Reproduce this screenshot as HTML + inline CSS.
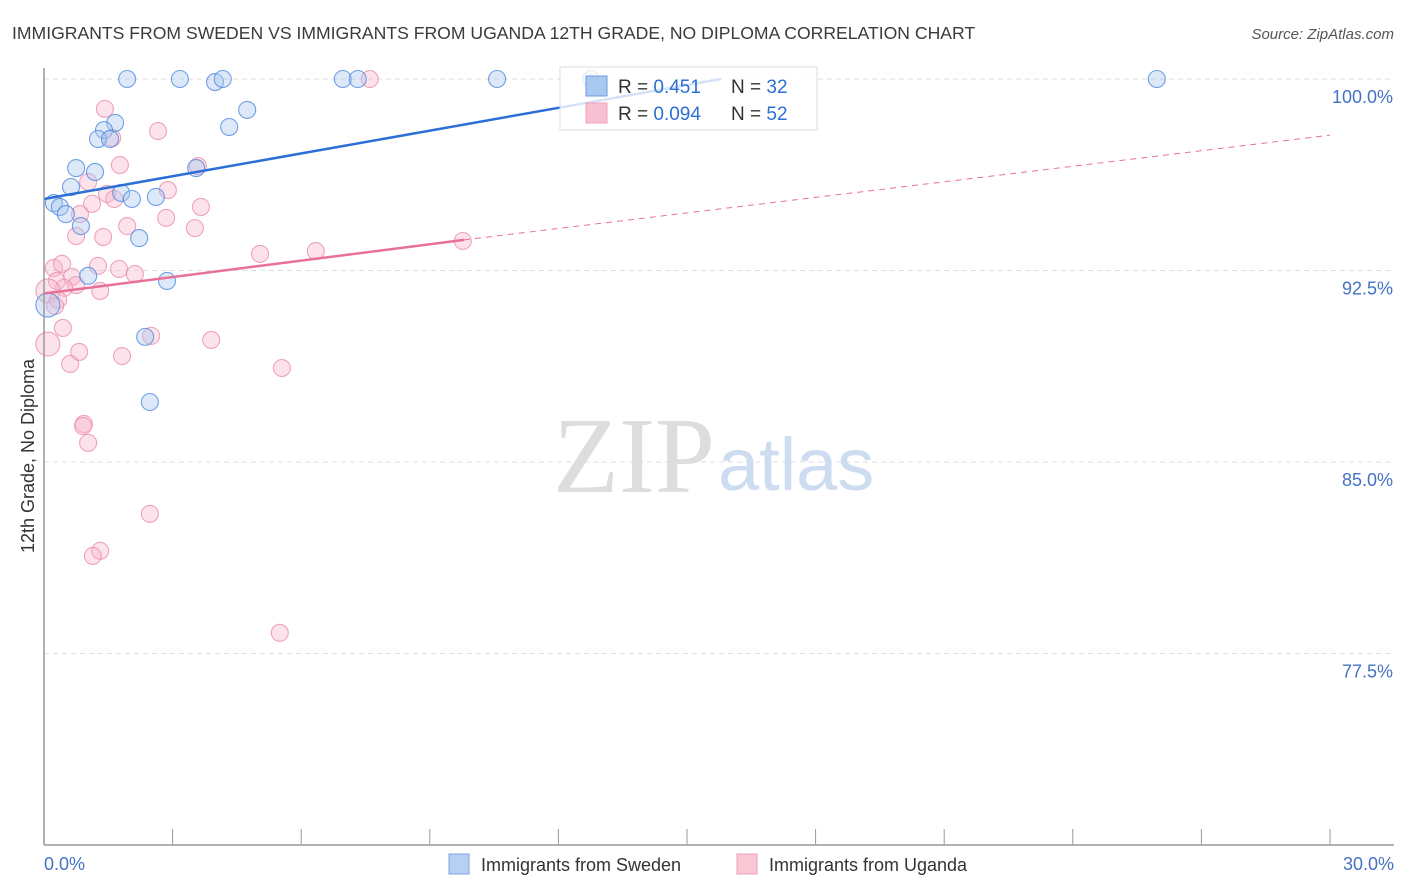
<!DOCTYPE html>
<html><head><meta charset="utf-8"><style>
body{margin:0;background:#fff;font-family:"Liberation Sans",sans-serif}
svg{display:block}
</style></head><body>
<svg width="1406" height="892" viewBox="0 0 1406 892">
<text x="12" y="39" font-size="17.6" fill="#3a3a3a">IMMIGRANTS FROM SWEDEN VS IMMIGRANTS FROM UGANDA 12TH GRADE, NO DIPLOMA CORRELATION CHART</text>
<text x="1394" y="39" font-size="15" fill="#555" text-anchor="end" font-style="italic">Source: ZipAtlas.com</text>
<g id="grid"></g>
<text x="553" y="492" font-size="108" fill="#ddd" font-family="Liberation Serif,serif">ZIP</text>
<text x="718" y="490" font-size="74" fill="#cddcf0">atlas</text>
<g id="pts"></g>
<g id="lines"></g>
<line x1="44" y1="68" x2="44" y2="845" stroke="#999" stroke-width="1.5"/>
<line x1="44" y1="845" x2="1394" y2="845" stroke="#999" stroke-width="1.5"/>
<text transform="translate(34,456) rotate(-90)" font-size="18" fill="#333" text-anchor="middle">12th Grade, No Diploma</text>
<text x="44" y="870" font-size="18" fill="#4472c4">0.0%</text>
<text x="1394" y="870" font-size="18" fill="#4472c4" text-anchor="end">30.0%</text>
<g>
<rect x="560" y="67" width="257" height="63" fill="#fff" fill-opacity="0.8" stroke="#ddd"/>
<rect x="586" y="76" width="21" height="20" fill="#a9c8f0" stroke="#6a9be0"/>
<rect x="586" y="103" width="21" height="20" fill="#f9c0d2" stroke="#eea0b8"/>
<text x="618" y="93" font-size="19" fill="#333">R = <tspan fill="#2c6fd6">0.451</tspan></text>
<text x="731" y="93" font-size="19" fill="#333">N = <tspan fill="#2c6fd6">32</tspan></text>
<text x="618" y="120" font-size="19" fill="#333">R = <tspan fill="#2c6fd6">0.094</tspan></text>
<text x="731" y="120" font-size="19" fill="#333">N = <tspan fill="#2c6fd6">52</tspan></text>
</g>
<g><rect x="449" y="854" width="20" height="20" fill="#b5d0f3" stroke="#7aa6e3"/><text x="481" y="871" font-size="18" fill="#333">Immigrants from Sweden</text></g>
<g><rect x="737" y="854" width="20" height="20" fill="#f9c8d7" stroke="#eea0b8"/><text x="769" y="871" font-size="18" fill="#333">Immigrants from Uganda</text></g>
</svg>
<script>
const yTicks=[100,92.5,85,77.5];
const xTickVals=[0,3,6,9,12,15,18,21,24,27,30];
const swedenX=[1.94,3.17,3.99,4.17,6.97,7.32,10.57,25.96,12.76,4.74,1.66,1.40,1.26,1.54,4.32,0.75,1.19,3.55,0.63,1.80,2.61,2.05,0.23,0.37,0.51,0.86,2.22,1.03,2.87,2.36,2.47,0.09];
const swedenY=[100,100,99.88,100,100,100,100,100,100,98.79,98.28,98.00,97.65,97.65,98.12,96.51,96.36,96.51,95.77,95.54,95.38,95.30,95.14,94.99,94.71,94.24,93.77,92.29,92.09,89.90,87.35,91.15];
const ugandaX=[7.60,1.42,2.66,1.59,1.77,3.59,1.03,2.89,1.47,1.12,1.64,3.66,0.84,2.85,1.94,3.52,0.75,1.38,9.77,6.34,5.04,0.23,0.42,1.26,1.75,2.12,0.65,0.30,0.75,0.47,1.31,0.09,0.33,0.26,0.44,2.50,3.90,0.82,0.09,1.82,0.61,5.55,0.93,0.91,1.03,2.47,1.31,1.14,5.50];
const ugandaY=[100,98.83,97.96,97.69,96.63,96.59,95.97,95.65,95.50,95.11,95.30,94.99,94.71,94.56,94.24,94.16,93.85,93.81,93.66,93.26,93.15,92.60,92.76,92.68,92.56,92.36,92.25,92.09,91.93,91.82,91.70,91.70,91.35,91.11,90.25,89.94,89.78,89.31,89.62,89.15,88.84,88.68,86.49,86.41,85.75,82.97,81.52,81.32,78.31];
const swedenLine=[0,95.3,15.8,100];
const ugandaLine=[0,91.6,9.8,93.7,30,97.8];
const X=v=>44+v/30*1286, Y=v=>79+(100-v)/7.5*191.5;
const NS="http://www.w3.org/2000/svg";
function mk(t,a,p){const e=document.createElementNS(NS,t);for(const k in a)e.setAttribute(k,a[k]);p.appendChild(e);return e;}
const g=document.getElementById('grid');
yTicks.forEach(t=>{
 const l=mk('line',{x1:44,x2:1394,y1:Y(t),y2:Y(t),stroke:'#ddd','stroke-dasharray':'5,4'},g);
 
 
 const tx=mk('text',{x:1393,y:Y(t)+24,'font-size':18,fill:'#4472c4','text-anchor':'end'},g);
 tx.textContent=t.toFixed(1)+'%';
 
 
});
xTickVals.forEach(t=>{
 const l=mk('line',{x1:X(t),x2:X(t),y1:829,y2:845,stroke:'#999'},g);
 
 
});
const p=document.getElementById('pts');
function pts(xs,ys,fill,stroke,name){xs.forEach((x,i)=>{
 const big=(x<0.1&&ys[i]<92);
 const c=mk('circle',{cx:X(x),cy:Y(ys[i]),r:big?12:8.5,fill:fill,'fill-opacity':0.4,stroke:stroke,'stroke-opacity':0.8,'stroke-width':1.1},p);
 
 
});}
pts(ugandaX,ugandaY,'#f7b6ca','#eb8fae','uganda-point');
pts(swedenX,swedenY,'#a9c8f0','#4d8ae0','sweden-point');
const L=document.getElementById('lines');
let e=mk('line',{x1:X(swedenLine[0]),y1:Y(swedenLine[1]),x2:X(swedenLine[2]),y2:Y(swedenLine[3]),stroke:'#2c6fd6','stroke-width':2.5},L);


e=mk('line',{x1:X(ugandaLine[0]),y1:Y(ugandaLine[1]),x2:X(ugandaLine[2]),y2:Y(ugandaLine[3]),stroke:'#e8709a','stroke-width':2.5},L);


e=mk('line',{x1:X(ugandaLine[2]),y1:Y(ugandaLine[3]),x2:X(ugandaLine[4]),y2:Y(ugandaLine[5]),stroke:'#e8709a','stroke-width':1,'stroke-dasharray':'6,5'},L);


</script>
</body></html>
